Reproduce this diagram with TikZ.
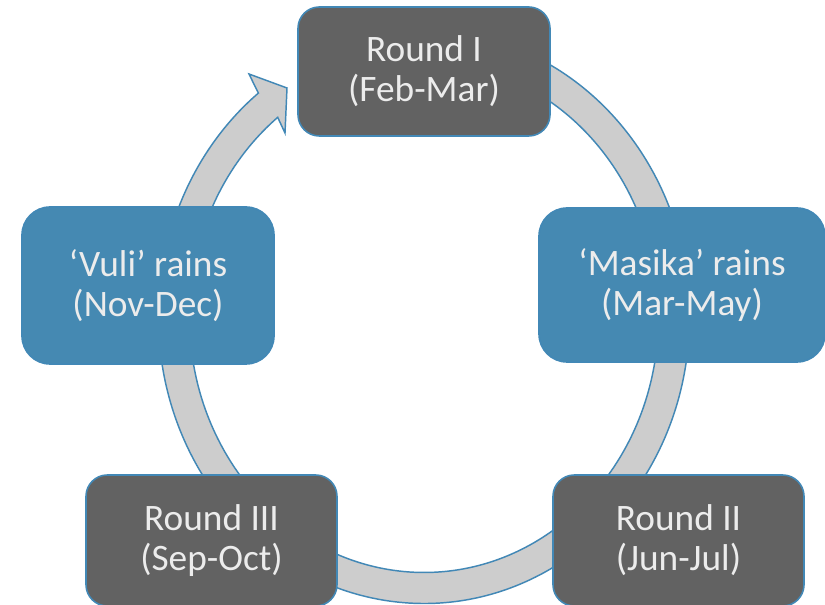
\documentclass[tikz,border=0pt]{standalone}
\usepackage{fontspec}
\setmainfont{Carlito}

\definecolor{edgeblue}{RGB}{66,136,182}
\definecolor{rainblue}{RGB}{69,137,178}
\definecolor{roundgrey}{RGB}{98,98,98}
\definecolor{ringgrey}{RGB}{205,205,205}
\definecolor{boxtext}{RGB}{236,236,236}

\tikzset{every picture/.style={line width=0.75pt}}
\tikzset{
  box/.style={draw=edgeblue, line width=1.2pt, text=boxtext, align=center,
    inner sep=0pt, font=\fontsize{28}{30}\selectfont},
  roundbox/.style={box, fill=roundgrey, rounded corners=16pt},
  rainbox/.style={box, fill=rainblue, rounded corners=21pt},
  ring/.style={draw=edgeblue, line width=1.1pt, fill=ringgrey, line join=miter}
}

\begin{document}
\begin{tikzpicture}[x=0.75pt,y=0.75pt,yscale=-1,xscale=1]
		\useasboundingbox (0,0) rectangle (825,605);
		
		%Centre of the cycle
		\coordinate (cc) at (424,317);
		%Shape: Circular Arrow
		\draw [ring] ([shift={(275:265.5 and 286.5)}]cc) arc [start angle=275, end angle=591.4, x radius=265.5, y radius=286.5]
		  -- (249,74) -- (287,88) -- (285,133)
		  -- ([shift={(231.4:234.5 and 255.5)}]cc) arc [start angle=591.4, end angle=275, x radius=234.5, y radius=255.5] -- cycle ;
		
		% Text Node
		\node [roundbox, minimum width=189pt, minimum height=96.75pt] (round1) at (424,71.5) {Round I\\(Feb-Mar)};
		% Text Node
		\node [rainbox, minimum width=214.5pt, minimum height=115.5pt] (masika) at (682,285) {‘Masika’ rains\\(Mar-May)};
		% Text Node
		\node [roundbox, minimum width=188.25pt, minimum height=98.25pt] (round2) at (678.5,540.5) {Round II\\(Jun-Jul)};
		% Text Node
		\node [roundbox, minimum width=188.25pt, minimum height=98.25pt] (round3) at (211.5,540.5) {Round III\\(Sep-Oct)};
		% Text Node
		\node [rainbox, minimum width=189pt, minimum height=117.75pt] (vuli) at (148,285.5) {‘Vuli’ rains\\(Nov-Dec)};
		
\end{tikzpicture}
\end{document}
